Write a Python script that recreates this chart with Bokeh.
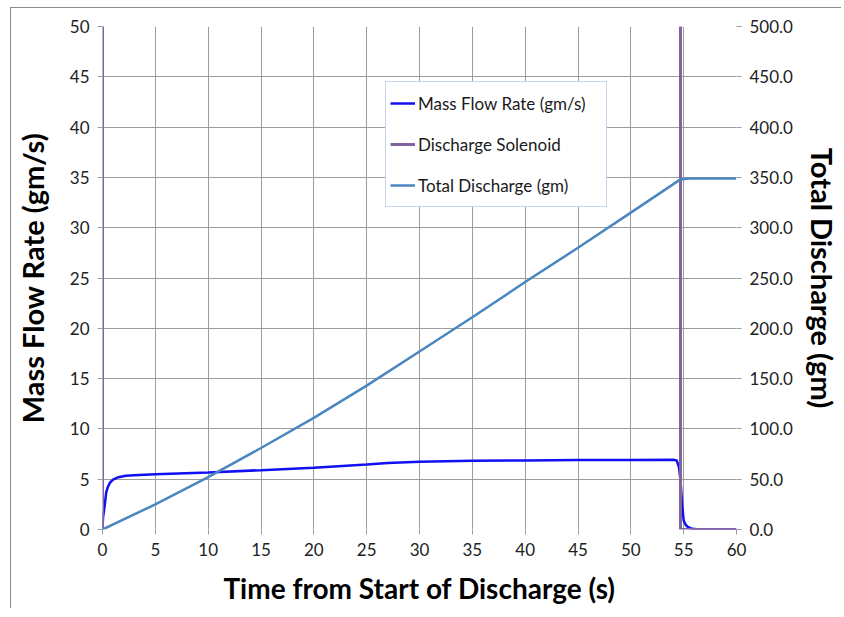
from bokeh.plotting import figure
from bokeh.models import Range1d, LinearAxis, Legend, LegendItem, FixedTicker, PrintfTickFormatter
from bokeh.embed import file_html
from bokeh.resources import INLINE

# ---- data ----
flow_t = [0, 0.05, 0.2, 0.35, 0.5, 0.7, 1.0, 1.5, 2.2, 3, 5, 10, 15, 20, 25, 27, 30, 35,
          40, 45, 50, 54.0, 54.35, 54.55, 54.7, 54.85, 55.0, 55.2, 55.4, 55.7, 56.2, 57, 60]
flow_v = [0, 1.2, 2.3, 3.7, 4.2, 4.65, 4.95, 5.2, 5.35, 5.4, 5.5, 5.66, 5.9, 6.15, 6.45, 6.6, 6.73, 6.84,
          6.87, 6.9, 6.92, 6.93, 6.85, 6.2, 4.9, 2.5, 0.9, 0.45, 0.25, 0.1, 0.03, 0, 0]

sol_t = [0, 0, 54.7, 54.7, 60]
sol_v = [0, 100, 100, 0, 0]

total_t = [0, 5, 10, 15, 20, 25, 30, 35, 40, 45, 50, 54.7, 55.5, 60]
total_v = [0, 25, 52, 81, 111, 143, 177, 211, 246, 280, 315, 348, 349, 349]

x_ticks = [0, 5, 10, 15, 20, 25, 30, 35, 40, 45, 50, 55, 60]
y_ticks = [0, 5, 10, 15, 20, 25, 30, 35, 40, 45, 50]
y2_ticks = [0, 50, 100, 150, 200, 250, 300, 350, 400, 450, 500]

FONT = "Lato"
GRID = "#9d9d9d"
TICK_SIZE = "17px"

p = figure(width=831, height=601, output_backend="svg", toolbar_location=None,
           x_range=Range1d(0, 60), y_range=Range1d(0, 50),
           min_border_left=88, min_border_right=100, min_border_top=18, min_border_bottom=80)
p.extra_y_ranges = {"total": Range1d(0, 500)}
p.outline_line_color = None
p.background_fill_color = "white"
p.border_fill_color = "white"

for ax in (p.xaxis[0], p.yaxis[0]):
    ax.axis_line_color = None
    ax.major_tick_line_color = GRID
    ax.major_tick_out = 5
    ax.major_tick_in = 0
    ax.minor_tick_line_color = None
    ax.major_label_text_font = FONT
    ax.major_label_text_font_size = TICK_SIZE
    ax.major_label_text_color = "#222222"
    ax.axis_label_text_font = FONT
    ax.axis_label_text_font_style = "bold"
    ax.axis_label_text_color = "#000000"

p.xaxis[0].axis_label_text_font_size = "28px"
p.yaxis[0].axis_label_text_font_size = "29px"
p.xaxis[0].ticker = FixedTicker(ticks=x_ticks)
p.yaxis[0].ticker = FixedTicker(ticks=y_ticks)
p.xaxis[0].axis_label = "Time from Start of Discharge (s)"
p.yaxis[0].axis_label = "Mass Flow Rate (gm/s)"
p.xaxis[0].major_label_standoff = 8
p.yaxis[0].major_label_standoff = 8
p.xaxis[0].axis_label_standoff = 12
p.yaxis[0].axis_label_standoff = 17

ax2 = LinearAxis(y_range_name="total", ticker=FixedTicker(ticks=y2_ticks),
                 formatter=PrintfTickFormatter(format="%.1f"),
                 axis_label="Total Discharge (gm)")
ax2.axis_line_color = None
ax2.major_tick_line_color = GRID
ax2.major_tick_out = 5
ax2.major_tick_in = 0
ax2.minor_tick_line_color = None
ax2.major_label_text_font = FONT
ax2.major_label_text_font_size = TICK_SIZE
ax2.major_label_text_color = "#222222"
ax2.major_label_standoff = 8
ax2.axis_label_text_font = FONT
ax2.axis_label_text_font_style = "bold"
ax2.axis_label_text_font_size = "29px"
ax2.axis_label_text_color = "#000000"
ax2.axis_label_standoff = 9
p.add_layout(ax2, "right")

p.xgrid.ticker = FixedTicker(ticks=x_ticks)
p.ygrid.ticker = FixedTicker(ticks=y_ticks)
p.xgrid.grid_line_color = GRID
p.ygrid.grid_line_color = GRID
p.xgrid.grid_line_width = 1
p.ygrid.grid_line_width = 1

r_flow = p.line(flow_t, flow_v, line_color="#1010f0", line_width=2.5)
r_sol = p.line(sol_t, sol_v, line_color="#8064a2", line_width=3)
r_tot = p.line(total_t, total_v, y_range_name="total", line_color="#4a86c0", line_width=2.5)

legend = Legend(items=[
    LegendItem(label="Mass Flow Rate (gm/s)", renderers=[r_flow]),
    LegendItem(label="Discharge Solenoid", renderers=[r_sol]),
    LegendItem(label="Total Discharge (gm)", renderers=[r_tot]),
], location=(283, 322))
legend.padding = 4
legend.spacing = 7
legend.label_height = 34
legend.glyph_height = 34
legend.glyph_width = 25
legend.label_standoff = 3
legend.label_width = 184
legend.label_text_font = FONT
legend.label_text_font_size = "17px"
legend.label_text_color = "#1a1a1a"
legend.border_line_color = "#8aa8d4"
legend.border_line_width = 1
legend.background_fill_color = "white"
legend.background_fill_alpha = 1
legend.margin = 0
p.add_layout(legend, "center")

p.styles = {"border-top": "1px solid #8c8c8c", "border-left": "1px solid #8c8c8c",
            "margin-left": "10px", "margin-top": "7px"}

open("out.html", "w").write(file_html(p, INLINE))
